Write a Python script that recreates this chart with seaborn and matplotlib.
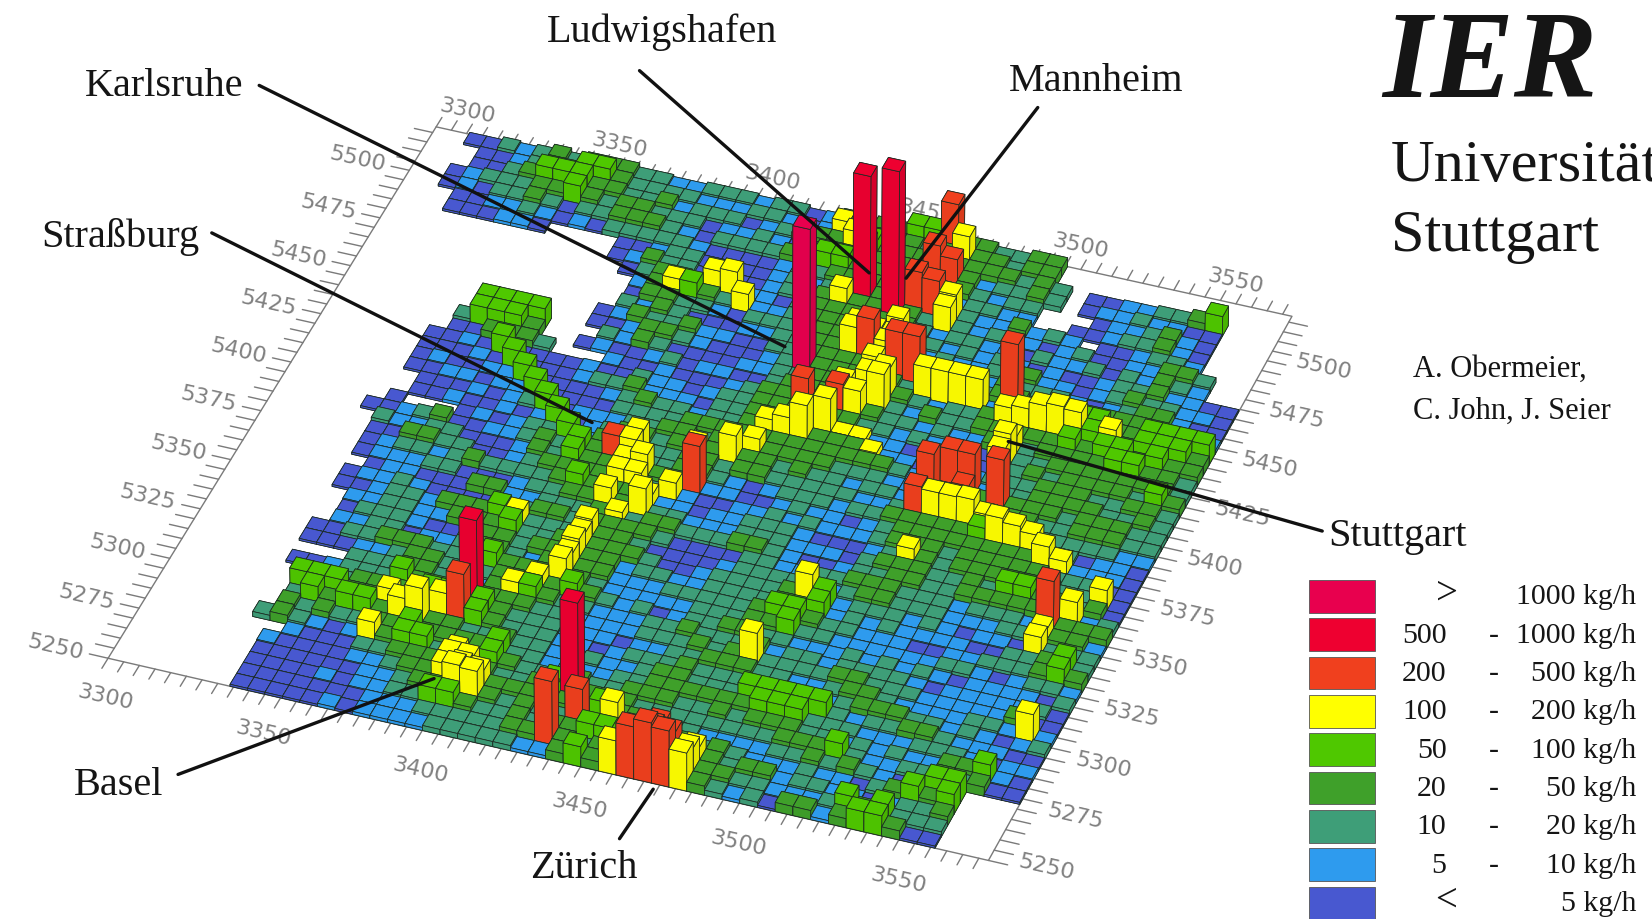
import numpy as np
import matplotlib
matplotlib.use('Agg')
import matplotlib.pyplot as plt
import seaborn as sns
from matplotlib.lines import Line2D
from matplotlib.patches import Rectangle

# emission class of every cell, north row first, west column first
# . no data, 1 <5, 2 5-10, 3 10-20, 4 20-50, 5 50-100
cells = [
    "..11323434 4433223332 3312434455 4443344... ..........",
    "...1123445 5433332223 3212454443 4444344... ..........",
    "...1134555 4433423331 2344455444 44444343.1 1223345...",
    "..12333445 4344333122 3213445444 33423343.1 2232211...",
    "..12133431 3344432133 3344554444 3343233... 1223421...",
    "...1122321 2133333211 1123344444 4323322..1 1233421...",
    "...111221. ...1123311 1123234444 4423224232 .112332...",
    ".......... ...1243312 1123344444 4323232212 31122443..",
    ".......... ....134433 3221344444 4323322132 23132432..",
    ".......... .....24354 3322344444 4332323212 1123342211",
    ".......... .....14433 2133344454 4323223342 2123433221",
    ".......... .....32431 1122334454 4322232433 3212344211",
    ".......... ....124334 2211334444 4322323443 4444443322",
    ".......... ....112443 2111233444 4433232244 4455445555",
    "........55 55...32431 1112233444 3343233443 4445545554",
    ".......355 54..121123 1221134444 4432433444 4454554544",
    ".......114 443...2112 1112344444 4433232244 3444455443",
    "......1121 5111121132 2123344444 4332321112 3344444443",
    "......1112 1511123342 2213344444 4322112212 3434444354",
    "......1211 2251111234 3323344444 4442212123 3344433443",
    "......1122 1225111133 3344444444 4444322312 3344443343",
    ".......111 2123512223 3443443444 4333223444 3444344433",
    ".......112 1121251234 4344444434 3323324444 4443344433",
    "......1... 1212335244 4334434433 3332233444 4433333322",
    ".....11234 1122343544 4334432123 3323344444 5433331221",
    "......3223 3111243544 4443322112 3221234444 4444332221",
    "......1144 3311234444 4433211223 2322234443 4444433311",
    "......1233 2343333454 4432212233 3211123443 4444443321",
    "......1222 3311123344 4443322233 3222134443 3435544341",
    ".......122 1114422333 4434433344 3211233443 3444441323",
    "......1223 2111133443 4444311113 3223344433 3233324444",
    "......1123 3244454333 4443111123 3332234433 3222332442",
    ".......223 3224445334 4444311233 3345523332 3212212333",
    ".......133 3211344344 4442332233 3344523232 2221133453",
    ".......223 3122344324 4442223333 3455433222 1122333454",
    "......1133 4443345444 5432222233 3445332222 2233212332",
    "......1112 2344333444 4543231233 4433222323 2321222213",
    ".........3 3344332445 4332223343 3342332333 3212222231",
    "......1123 3354444444 3322223334 3443333443 3322222411",
    ".......133 4444554543 3322212233 4443322344 3222233222",
    ".......555 4443444543 3322123334 3333322234 4433232123",
    ".......354 5544444334 3322322344 3335555532 3344322211",
    ".......434 3344544445 3322223344 4444555333 2223332122",
    "......3432 1244553345 4332433444 3343444332 3232244521",
    "........21 1133444444 3345444433 3333334445 3223343411",
    ".......211 1122344444 4445445442 3322223343 4321355...",
    ".......111 1112234444 4343353434 3434322232 2134545...",
    ".......111 1212233554 3343445554 4444344233 2212334...",
    ".......111 1111222333 3344343454 4444433222 3545333...",
    ".......111 1121222233 3332245444 4444323144 2455411...",
]

# hot cells drawn over the background (column, row, class, height)
hot_cols = [26, 27, 29, 16, 24, 16, 24, 25, 29, 30, 31, 29, 30, 31, 30, 28, 32, 32, 32, 19, 24, 36, 36, 37, 38, 40, 38, 46,
            37, 38, 39, 40, 41, 42, 43, 44, 45, 46, 46, 47, 48, 37, 33, 32, 48, 16, 12, 12, 13, 14, 15,
            18, 19, 17, 18, 19, 18, 17, 17, 18, 19, 20, 20, 20, 20, 20,
            21, 20, 20, 21, 20, 22, 21, 23, 22, 20, 20,
            23, 25, 26, 26, 27, 28, 29, 30, 31, 31, 30, 30, 29, 30, 31, 32, 27, 29,
            29, 31, 32, 30, 31, 30, 30, 31, 31,
            24, 25, 26, 26, 28, 28, 29, 30, 30, 30, 31, 32, 32, 31,
            33, 34, 35, 36, 38, 39, 38, 40, 41, 42, 44, 39, 39, 39, 17, 19, 20, 21, 27]
hot_rows = [36, 43, 42, 11, 5, 9, 1, 3, 0, 0, 0, 1, 1, 1, 2, 0, 0, 1, 2, 25, 24, 26, 28, 29, 29, 28, 28, 19,
            26, 26, 26, 26, 25, 25, 25, 24, 24, 17, 18, 20, 22, 22, 17, 11, 10, 18, 6, 9, 8, 8, 9,
            3, 3, 4, 4, 4, 5, 5, 6, 12, 13, 14, 15, 16, 17, 18,
            24, 24, 23, 23, 21, 21, 20, 23, 22, 26, 25,
            27, 27, 28, 30, 30, 30, 31, 33, 34, 35, 35, 36, 34, 31, 31, 30, 33, 33,
            38, 37, 37, 43, 43, 49, 46, 46, 48,
            48, 47, 46, 42, 38, 39, 39, 39, 40, 38, 38, 43, 42, 44,
            36, 36, 36, 36, 35, 35, 36, 35, 35, 35, 35, 32, 31, 33, 40, 41, 41, 40, 3]
hot_levels = [9, 8, 8, 8, 8, 7, 7, 7, 7, 7, 7, 7, 7, 7, 7, 6, 6, 6, 6, 7, 7, 7, 7, 7, 7, 7, 7, 7,
              6, 6, 6, 6, 6, 6, 6, 6, 6, 6, 6, 6, 6, 6, 6, 6, 6, 6, 6, 6, 6, 6, 6,
              6, 6, 6, 6, 6, 6, 6, 6, 6, 6, 6, 6, 6, 6, 6,
              6, 6, 6, 6, 6, 6, 6, 6, 6, 6, 6,
              6, 6, 6, 6, 6, 6, 6, 6, 6, 6, 6, 6, 6, 6, 6, 6, 7, 7,
              7, 7, 7, 7, 7, 7, 7, 7, 6,
              6, 6, 6, 6, 6, 6, 6, 6, 6, 6, 6, 6, 6, 6,
              6, 6, 6, 6, 6, 6, 7, 6, 6, 6, 6, 6, 6, 6, 6, 6, 6, 6, 6]
hot_heights = [147, 130, 153, 85, 100, 53, 66, 40, 52, 60, 56, 40, 46, 44, 38, 34, 38, 32, 22, 30, 50, 35, 46, 43, 43, 56, 22, 56,
               33, 33, 34, 22, 34, 30, 25, 28, 17, 22, 20, 28, 22, 20, 33, 36, 30, 18, 22, 22, 28, 42, 30,
               36, 34, 22, 26, 24, 22, 22, 15, 20, 20, 30, 25, 28, 24, 26,
               30, 22, 22, 22, 25, 32, 15, 20, 15, 28, 30,
               16, 32, 22, 20, 26, 42, 42, 32, 42, 38, 30, 34, 28, 9, 9, 10, 33, 35,
               47, 52, 52, 45, 40, 50, 40, 30, 32,
               20, 24, 28, 24, 35, 30, 26, 24, 30, 28, 28, 30, 28, 18,
               35, 35, 35, 35, 25, 28, 78, 35, 38, 36, 26, 35, 30, 22, 20, 25, 28, 20, 35]

class_height = [0, 2, 3, 5, 9, 20]

x_labels = [3300, 3350, 3400, 3450, 3500, 3550]
y_labels = [5250, 5275, 5300, 5325, 5350, 5375, 5400, 5425, 5450, 5475, 5500]
x_span = [3300, 3578]
y_span = [5250, 5523]

legend_low = ['>', '500', '200', '100', '50', '20', '10', '5', '<']
legend_high = ['1000 kg/h', '1000 kg/h', '500 kg/h', '200 kg/h', '100 kg/h', '50 kg/h', '20 kg/h', '10 kg/h', '5 kg/h']
class_colors = ['#4858D0', '#2E9BEE', '#3E9E78', '#3FA02A', '#4FC800', '#FFFF00', '#F0401E', '#EE0030', '#E8004E']

W, H = 1652, 920
SHRINK = 1652 / 1568
ELEV, AZIM = 38, -70

sns.set_theme(style='white')
plt.rcParams['font.family'] = ['Liberation Serif', 'DejaVu Serif']
palette = sns.color_palette(class_colors)

fig = plt.figure(figsize=(W / 100, H / 100), dpi=100, facecolor='white')
ax = fig.add_axes([0.0245, -0.1441, 0.7847, 1.4091], projection='3d', computed_zorder=False)
ax.set_axis_off()
ax.set_box_aspect((1, 1, 0.2738))
ax.view_init(elev=ELEV, azim=AZIM)
ax.set_proj_type('persp', focal_length=3)

# bars, painted back to front
grid = [r.replace(' ', '') for r in cells]
n_rows = len(grid)
cell_x = (x_span[1] - x_span[0]) / len(grid[0])
cell_y = (y_span[1] - y_span[0]) / n_rows
bars = {}
for k, row in enumerate(grid):
    r = n_rows - 1 - k
    for c, code in enumerate(row):
        if code != '.':
            bars[(c, r)] = (int(code), class_height[int(code)])
for c, r, level, height in zip(hot_cols, hot_rows, hot_levels, hot_heights):
    bars[(c, r)] = (level, height)
eye = np.array([np.cos(np.radians(AZIM)), np.sin(np.radians(AZIM))])
order = sorted(bars, key=lambda b: b[0] * eye[0] * cell_x + b[1] * eye[1] * cell_y)
for rank, (c, r) in enumerate(order):
    level, height = bars[(c, r)]
    base = np.array(palette[level - 1])
    faces = [base, base, base * 0.97, base, base, base * 0.9]
    ax.bar3d([x_span[0] + c * cell_x], [y_span[0] + r * cell_y], [0], cell_x, cell_y, height,
             color=faces, shade=False, edgecolor='#1c2b22', linewidth=0.55, zorder=rank + 1)

# frame, ticks and tick labels at ground level
frame_kw = dict(color='#7a7a7a', lw=1.0, zorder=0.5)
ax.plot([x_span[0], x_span[1], x_span[1], x_span[0], x_span[0]],
        [y_span[0], y_span[0], y_span[1], y_span[1], y_span[0]], [0] * 5, **frame_kw)
for xt in np.arange(x_span[0], x_span[1], 5):
    ax.plot([xt, xt], [y_span[0], y_span[0] - 5], [0, 0], **frame_kw)
    ax.plot([xt, xt], [y_span[1], y_span[1] + 5], [0, 0], **frame_kw)
for yt in np.arange(y_span[0], y_span[1], 5):
    ax.plot([x_span[0], x_span[0] - 6], [yt, yt], [0, 0], **frame_kw)
    ax.plot([x_span[1], x_span[1] + 6], [yt, yt], [0, 0], **frame_kw)
label_kw = dict(color='#808080', fontsize=16, family='DejaVu Sans', zdir='x', ha='center', va='center', rotation_mode='anchor')
for xv in x_labels:
    ax.text(xv + 6, y_span[0] - 17, 0, str(xv), **label_kw)
    ax.text(xv + 6, y_span[1] + 11, 0, str(xv), **label_kw)
for yv in y_labels:
    ax.text(x_span[0] - 17, yv, 0, str(yv), **label_kw)
    ax.text(x_span[1] + 17, yv + 3, 0, str(yv), **label_kw)
ax.set_xlim(*x_span)
ax.set_ylim(*y_span)
ax.set_zlim(0, 200)


def put(x, y, text, **kw):
    fig.text(x * SHRINK / W, 1 - y * SHRINK / H, text, color='#151515', **kw)


def leader(x0, y0, x1, y1):
    fig.add_artist(Line2D([x0 * SHRINK / W, x1 * SHRINK / W], [1 - y0 * SHRINK / H, 1 - y1 * SHRINK / H],
                          color='#111111', lw=2.4, solid_capstyle='round', zorder=5))


for name, x, y in [('Ludwigshafen', 628, 31), ('Karlsruhe', 156, 82), ('Mannheim', 1040, 77), ('Straßburg', 114, 225),
                   ('Stuttgart', 1326, 509), ('Basel', 113, 746), ('Zürich', 554, 824)]:
    put(x, y, name, fontsize=29, ha='center', va='center')
for seg in [(246, 82, 745, 330), (607, 68, 825, 260), (985, 103, 860, 265), (201, 222, 562, 402),
            (957, 420, 1255, 505), (169, 736, 412, 645), (588, 797, 620, 750)]:
    leader(*seg)

put(1312, 92, 'IER', fontsize=90, fontweight='bold', fontstyle='italic', ha='left', va='baseline')
put(1320, 172, 'Universität', fontsize=43.5, ha='left', va='baseline')
put(1320, 238, 'Stuttgart', fontsize=43.5, ha='left', va='baseline')
put(1341, 351, 'A. Obermeier,', fontsize=22, ha='left', va='center')
put(1341, 390, 'C. John, J. Seier', fontsize=22, ha='left', va='center')

# legend, hottest class on top
for k, (lo, hi) in enumerate(zip(legend_low, legend_high)):
    yc = 567 + k * 36.4
    fig.add_artist(Rectangle((1242 * SHRINK / W, 1 - (yc + 15.5) * SHRINK / H), 63 * SHRINK / W, 31 * SHRINK / H,
                             transform=fig.transFigure, facecolor=palette[8 - k], edgecolor='#555555', lw=0.6))
    if k in (0, 8):
        put(1373, yc - 3, lo, fontsize=28, ha='center', va='center')
    else:
        put(1373, yc, lo, fontsize=21.5, ha='right', va='center')
        put(1418, yc, '-', fontsize=21.5, ha='center', va='center')
    put(1553, yc, hi, fontsize=21.5, ha='right', va='center')

fig.savefig('out.png', dpi=100, facecolor='white')
